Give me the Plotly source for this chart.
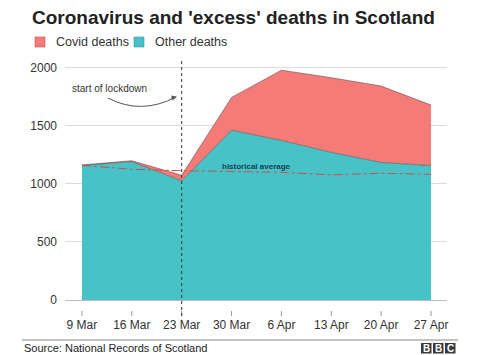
import plotly.graph_objects as go

weeks = ["9 Mar", "16 Mar", "23 Mar", "30 Mar", "6 Apr", "13 Apr", "20 Apr", "27 Apr"]
total_deaths = [1164, 1200, 1075, 1745, 1980, 1915, 1843, 1680]
other_deaths = [1160, 1192, 1027, 1463, 1375, 1272, 1185, 1158]
historical_avg = [1160, 1126, 1114, 1110, 1100, 1078, 1092, 1083]
y_ticks = [0, 500, 1000, 1500, 2000]

# page body has an 8px margin; draw the figure so that page pixels match the reference
OFF = 8
W, H = 480 - OFF, 355 - OFF
# plot area in page pixels: x 65..447, y 58..300
PL, PR, PT, PB = 65, 447, 58, 300
L, R, T, B = PL - OFF, W - (PR - OFF), PT - OFF, H - (PB - OFF)
x_idx = list(range(len(weeks)))

RED = "#F47B78"
TEAL = "#47C2C6"
FONT = "Liberation Sans, Arial, sans-serif"

fig = go.Figure()
fig.add_trace(go.Scatter(x=x_idx, y=other_deaths, fill="tozeroy", fillcolor=TEAL,
                         mode="lines", line=dict(color="rgba(70,80,80,0.7)", width=0.8),
                         name="Other deaths", hoverinfo="skip"))
fig.add_trace(go.Scatter(x=x_idx, y=total_deaths, fill="tonexty", fillcolor=RED,
                         mode="lines", line=dict(color="rgba(90,70,70,0.7)", width=0.8),
                         name="Covid deaths", hoverinfo="skip"))
fig.add_trace(go.Scatter(x=x_idx, y=historical_avg, mode="lines",
                         line=dict(color="#C9524F", width=1, dash="dashdot"),
                         name="historical average", hoverinfo="skip"))

def px2paper_x(px):
    return (px - PL) / (PR - PL)

def px2paper_y(py):
    return (PB - py) / (PB - PT)

shapes = []
# detached tick marks below the axis
for xi in x_idx:
    shapes.append(dict(type="line", xref="x", yref="paper", x0=xi, x1=xi,
                       y0=px2paper_y(311), y1=px2paper_y(316), line=dict(color="#999999", width=1)))
shapes.append(dict(type="line", xref="x", yref="paper", x0=2, x1=2,
                   y0=px2paper_y(316), y1=1, line=dict(color="#333333", width=1, dash="dot"), layer="above"))
shapes.append(dict(type="path", xref="x", yref="y",
                   path="M 0.52,1741 Q 1.18,1590 1.89,1750",
                   line=dict(color="#555555", width=1)))
shapes.append(dict(type="rect", xref="paper", yref="paper",
                   x0=px2paper_x(35), x1=px2paper_x(45), y0=px2paper_y(47), y1=px2paper_y(37),
                   fillcolor=RED, line=dict(color="#c05a58", width=0.6)))
shapes.append(dict(type="rect", xref="paper", yref="paper",
                   x0=px2paper_x(134), x1=px2paper_x(144), y0=px2paper_y(47), y1=px2paper_y(37),
                   fillcolor=TEAL, line=dict(color="#2f9a9d", width=0.6)))
shapes.append(dict(type="line", xref="paper", yref="paper",
                   x0=px2paper_x(22), x1=px2paper_x(458), y0=px2paper_y(340), y1=px2paper_y(340),
                   line=dict(color="#888888", width=1)))
for bx in [421, 433, 445]:
    shapes.append(dict(type="rect", xref="paper", yref="paper",
                       x0=px2paper_x(bx), x1=px2paper_x(bx + 10.5), y0=px2paper_y(353.5), y1=px2paper_y(343),
                       fillcolor="#3a3a3a", line=dict(width=0)))

annotations = []
annotations.append(dict(text="start of lockdown", x=px2paper_x(70), y=px2paper_y(88), xref="paper", yref="paper",
                        xanchor="left", yanchor="middle", showarrow=False,
                        font=dict(family=FONT, size=10, color="#333333")))
annotations.append(dict(text="", x=1.9, y=1752, xref="x", yref="y", ax=-7, ay=2,
                        showarrow=True, arrowhead=2, arrowsize=1, arrowwidth=1, arrowcolor="#555555"))
annotations.append(dict(text="<b>historical average</b>", x=3.49, y=1148, xref="x", yref="y",
                        showarrow=False, font=dict(family=FONT, size=8, color="#17404f")))
annotations.append(dict(text="Covid deaths", x=px2paper_x(54), y=px2paper_y(42), xref="paper", yref="paper",
                        xanchor="left", yanchor="middle", showarrow=False,
                        font=dict(family=FONT, size=12.5, color="#333333")))
annotations.append(dict(text="Other deaths", x=px2paper_x(153), y=px2paper_y(42), xref="paper", yref="paper",
                        xanchor="left", yanchor="middle", showarrow=False,
                        font=dict(family=FONT, size=12.5, color="#333333")))
annotations.append(dict(text="Source: National Records of Scotland", x=px2paper_x(22), y=px2paper_y(348),
                        xref="paper", yref="paper", xanchor="left", yanchor="middle", showarrow=False,
                        font=dict(family=FONT, size=11, color="#222222")))
for letter, bx in zip("BBC", [421, 433, 445]):
    annotations.append(dict(text="<b>%s</b>" % letter, x=px2paper_x(bx + 5.25), y=px2paper_y(348.5),
                            xref="paper", yref="paper", xanchor="center", yanchor="middle", showarrow=False,
                            font=dict(family=FONT, size=10, color="white")))

fig.update_layout(
    width=W, height=H,
    margin=dict(l=L, r=R, t=T, b=B, pad=0),
    paper_bgcolor="white", plot_bgcolor="white",
    showlegend=False,
    title=dict(text="<b>Coronavirus and 'excess' deaths in Scotland</b>",
               x=(32 - OFF) / W, xanchor="left", xref="container",
               y=1 - (17 - OFF) / H, yanchor="middle", yref="container",
               font=dict(family=FONT, size=19, color="#222222")),
    xaxis=dict(range=[-0.34, 7.32], tickvals=x_idx, ticktext=weeks, showgrid=False,
               ticks="", zeroline=False, showline=False,
               tickfont=dict(family=FONT, size=12, color="#333333"), ticklabelstandoff=16, fixedrange=True),
    yaxis=dict(range=[0, 2085], tickvals=y_ticks, ticktext=[str(v) for v in y_ticks],
               showgrid=True, gridcolor="#dcdcdc", gridwidth=1, zeroline=True, zerolinecolor="#bbbbbb",
               zerolinewidth=1, ticks="", showline=False,
               tickfont=dict(family=FONT, size=12, color="#333333"), ticklabelstandoff=7, fixedrange=True),
    shapes=shapes,
    annotations=annotations,
)

fig.write_html("out.html")
